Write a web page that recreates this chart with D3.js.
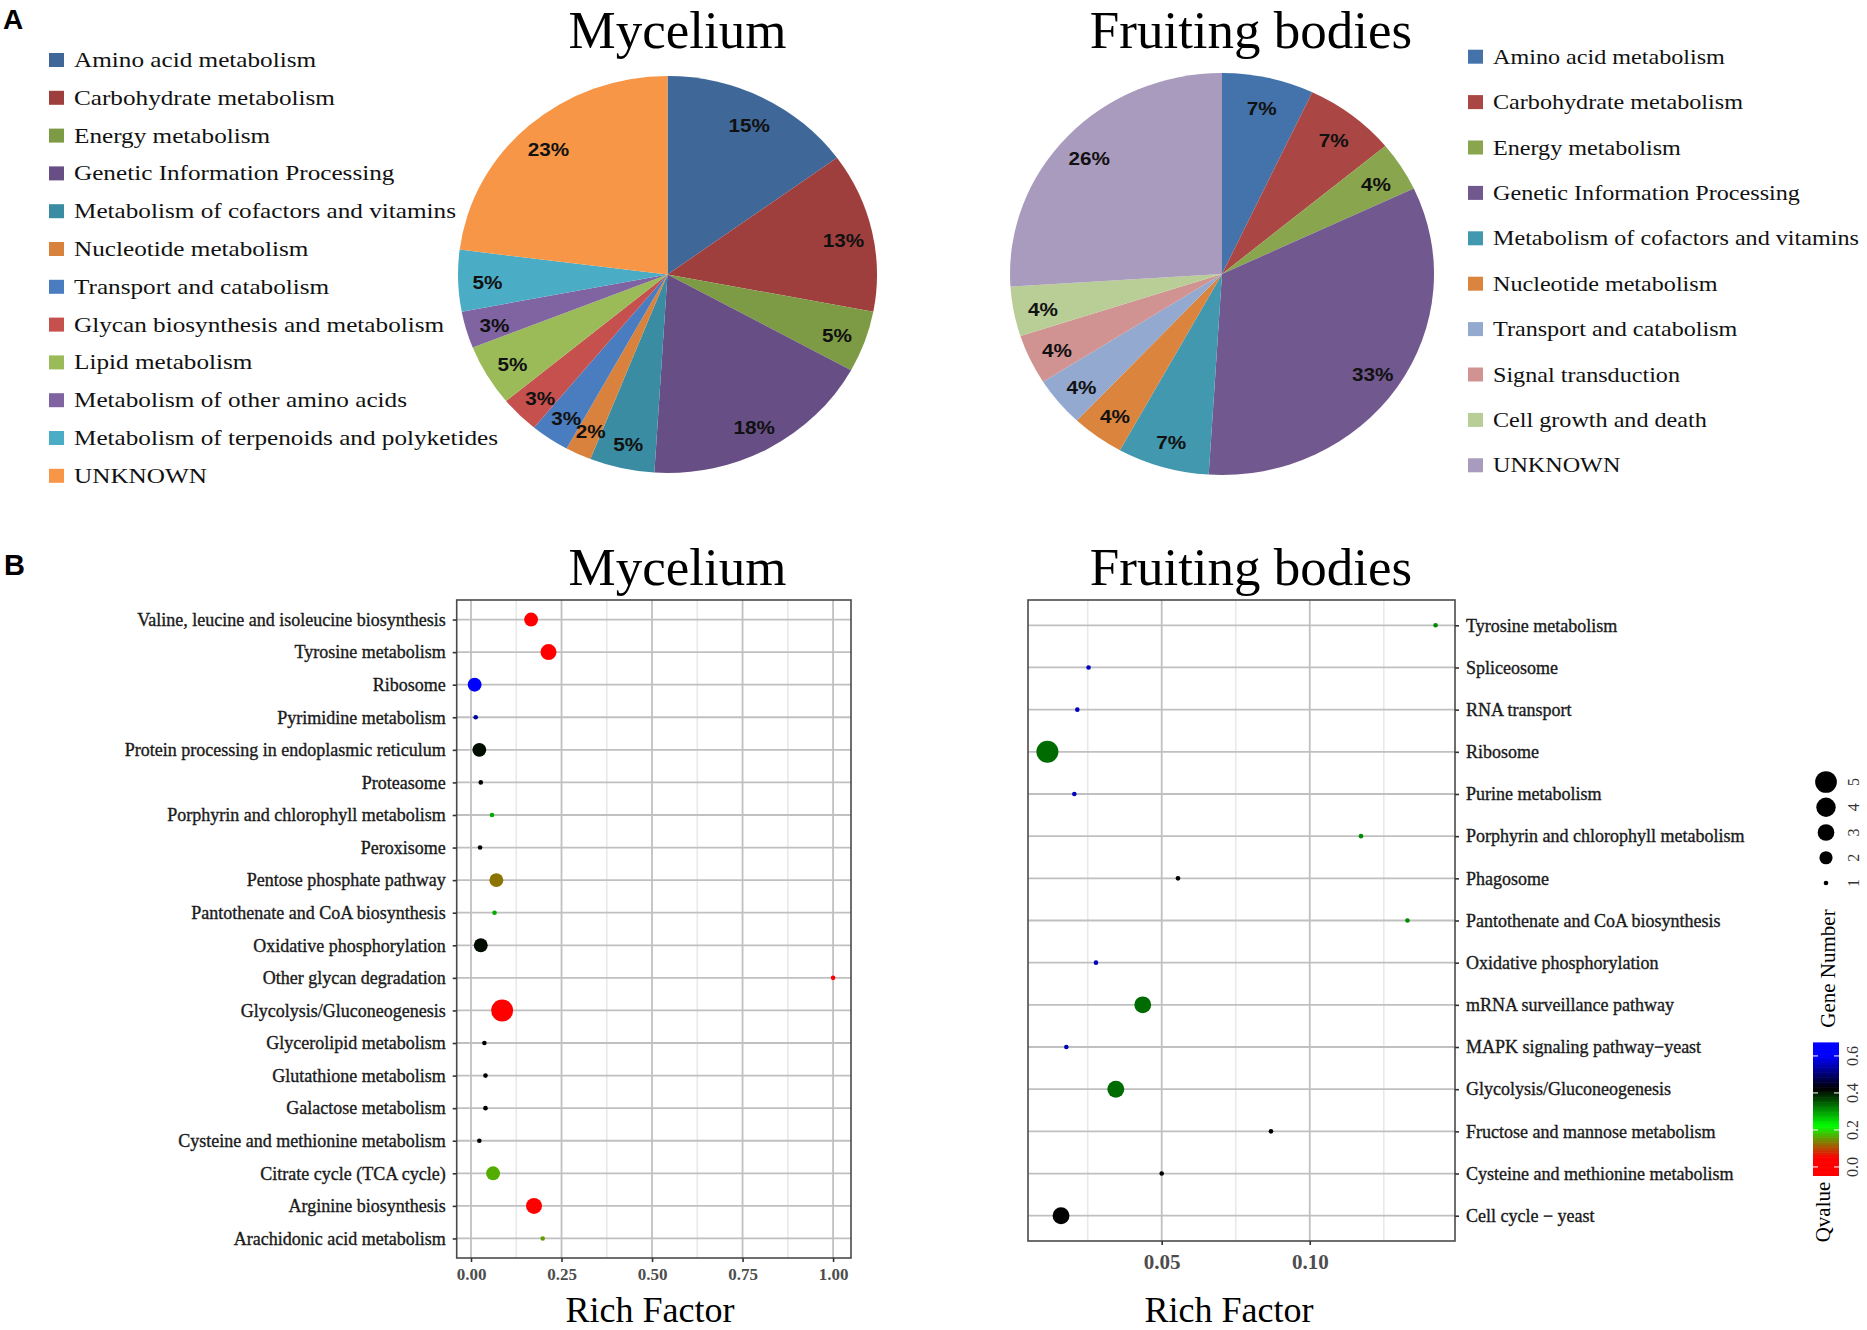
<!DOCTYPE html>
<html><head><meta charset="utf-8">
<script src="https://cdn.jsdelivr.net/npm/d3@7"></script>
<style>
html,body{margin:0;padding:0;background:#fff;}
svg{display:block;}
</style></head>
<body>
<svg id="chart" width="1867" height="1330"></svg>
<script>
// ---------------- DATA ----------------
const pieMycCategories = ["Amino acid metabolism","Carbohydrate metabolism","Energy metabolism","Genetic Information Processing","Metabolism of cofactors and vitamins","Nucleotide metabolism","Transport and catabolism","Glycan biosynthesis and metabolism","Lipid metabolism","Metabolism of other amino acids","Metabolism of terpenoids and polyketides","UNKNOWN"];
const pieMycValues = [15,13,5,18,5,2,3,3,5,3,5,23];

const pieFruCategories = ["Amino acid metabolism","Carbohydrate metabolism","Energy metabolism","Genetic Information Processing","Metabolism of cofactors and vitamins","Nucleotide metabolism","Transport and catabolism","Signal transduction","Cell growth and death","UNKNOWN"];
const pieFruValues = [7,7,4,33,7,4,4,4,4,26];

const mycPathways = ["Valine, leucine and isoleucine biosynthesis","Tyrosine metabolism","Ribosome","Pyrimidine metabolism","Protein processing in endoplasmic reticulum","Proteasome","Porphyrin and chlorophyll metabolism","Peroxisome","Pentose phosphate pathway","Pantothenate and CoA biosynthesis","Oxidative phosphorylation","Other glycan degradation","Glycolysis/Gluconeogenesis","Glycerolipid metabolism","Glutathione metabolism","Galactose metabolism","Cysteine and methionine metabolism","Citrate cycle (TCA cycle)","Arginine biosynthesis","Arachidonic acid metabolism"];
const mycRichFactor = [0.166,0.214,0.010,0.013,0.023,0.027,0.058,0.025,0.070,0.065,0.027,1.000,0.086,0.037,0.040,0.040,0.023,0.061,0.174,0.198];
const mycGeneNumber = [3,4,3,1,3,1,1,1,3,1,3,1,8,1,1,1,1,3,4,1];
const mycQvalue = [0.02,0.02,0.64,0.53,0.41,0.42,0.285,0.42,0.127,0.285,0.41,0.05,0.0,0.42,0.42,0.42,0.42,0.165,0.02,0.155];

const fruPathways = ["Tyrosine metabolism","Spliceosome","RNA transport","Ribosome","Purine metabolism","Porphyrin and chlorophyll metabolism","Phagosome","Pantothenate and CoA biosynthesis","Oxidative phosphorylation","mRNA surveillance pathway","MAPK signaling pathway\u2212yeast","Glycolysis/Gluconeogenesis","Fructose and mannose metabolism","Cysteine and methionine metabolism","Cell cycle \u2212 yeast"];
const fruRichFactor = [0.1425,0.0253,0.0215,0.0114,0.0205,0.1173,0.0555,0.1330,0.0278,0.0436,0.0178,0.0345,0.0869,0.0500,0.0160];
const fruGeneNumber = [1,1,1,5,1,1,1,1,1,3,1,3,1,1,3];
const fruQvalue = [0.312,0.551,0.551,0.336,0.551,0.312,0.42,0.312,0.551,0.336,0.551,0.336,0.42,0.42,0.42];

const mycMajorTicks = [0, 0.25, 0.5, 0.75, 1.0];
const mycMinorTicks = [0.125, 0.375, 0.625, 0.875];
const fruMajorTicks = [0.05, 0.10];
const fruMinorTicks = [0.025, 0.075, 0.125];
const qTicks = [0, 0.2, 0.4, 0.6];
const geneLegendValues = [1,2,3,4,5];

// ---------------- STYLES ----------------
const pieMycColors = ["#3F6899","#9E3F3D","#7D9A44","#674F86","#3A8CA2","#D9823E","#4A7DBF","#C6504E","#9BBB59","#8064A2","#4BACC6","#F79646"];
const pieFruColors = ["#4472AB","#AA4643","#89A54E","#71588F","#4198AF","#DB843D","#93A9CF","#D19392","#B9CD96","#A99BBD"];
const serif = "'Liberation Serif','Times New Roman',serif";
const sans = "'Liberation Sans',Arial,sans-serif";

const svg = d3.select('#chart');
svg.append('rect').attr('width',1867).attr('height',1330).attr('fill','#fff');

// panel letters
svg.append('text').attr('x',3).attr('y',29).text('A')
  .attr('font-family',sans).attr('font-weight','bold').attr('font-size',28);
svg.append('text').attr('x',4).attr('y',575).text('B')
  .attr('font-family',sans).attr('font-weight','bold').attr('font-size',29);

// titles
[[677.5,47.5,'Mycelium'],[1251,47.5,'Fruiting bodies'],[677.5,585,'Mycelium'],[1251,585,'Fruiting bodies']]
  .forEach(([x,y,t])=>svg.append('text').attr('x',x).attr('y',y).attr('text-anchor','middle')
    .attr('font-family',serif).attr('font-size',53).text(t));

// ---------------- PIES ----------------
function drawPie(cats, vals, colors, cx, cy, rx, ry, lx, ly0, lstep, tscale){
  const sx = rx/ry;
  const data = cats.map((c,i)=>({c, v: vals[i], color: colors[i]}));
  const arcs = d3.pie().sort(null).value(d=>d.v)(data);
  const arc = d3.arc().innerRadius(0).outerRadius(ry);
  const g = svg.append('g').attr('transform',`translate(${cx},${cy})`);
  g.append('g').attr('transform',`scale(${sx},1)`)
    .selectAll('path').data(arcs).join('path').attr('d',arc).attr('fill',d=>d.data.color);
  const lab = d3.arc().innerRadius(ry*0.86).outerRadius(ry*0.86);
  g.selectAll('text').data(arcs).join('text')
    .attr('transform',d=>{const c=lab.centroid(d);return `translate(${c[0]*sx},${c[1]+3}) scale(1.15,1)`;})
    .attr('text-anchor','middle').attr('dy','0.36em')
    .attr('font-family',sans).attr('font-weight','bold').attr('font-size',18).attr('fill','#111')
    .text(d=>d.data.v+'%');
  const yL = d3.scalePoint().domain(cats).range([ly0, ly0+lstep*(cats.length-1)]);
  const lg = svg.append('g');
  const row = lg.selectAll('g').data(data).join('g').attr('transform',d=>`translate(${lx},${yL(d.c)})`);
  row.append('rect').attr('x',0).attr('y',-7).attr('width',15).attr('height',14).attr('fill',d=>d.color);
  row.append('text').attr('transform',`translate(25,7) scale(${tscale},1)`)
    .attr('font-family',serif).attr('font-size',21).attr('fill','#111').text(d=>d.c);
}
drawPie(pieMycCategories, pieMycValues, pieMycColors, 667.5, 274.5, 209.5, 198.5, 49, 60, 37.8, 1.2);
drawPie(pieFruCategories, pieFruValues, pieFruColors, 1222, 274, 212, 201, 1468, 56.7, 45.4, 1.15);

// ---------------- DOT PLOTS ----------------
const qColor = d3.scaleLinear().domain([0.05,0.22,0.42,0.6])
  .range(['#ff0000','#00ff00','#000000','#0000ff']).interpolate(d3.interpolateRgb).clamp(true);

function drawDot(o){
  const ext = d3.extent(o.rich); const pad = (ext[1]-ext[0])*0.05;
  const x = d3.scaleLinear().domain([ext[0]-pad, ext[1]+pad]).range([o.x0,o.x1]);
  const y = d3.scalePoint().domain(o.cats).range([o.y0,o.y1]).padding(0.6);
  const gmax = d3.max(o.genes);
  const dia = d3.scaleLinear().domain([0,1]).range([4.6,22]);
  const size = v => dia(Math.sqrt((v-1)/(gmax-1)));
  const g = svg.append('g');
  g.selectAll('line.minor').data(o.minor).join('line')
    .attr('x1',d=>x(d)).attr('x2',d=>x(d)).attr('y1',o.y0).attr('y2',o.y1)
    .attr('stroke','#e9e9e9').attr('stroke-width',1.6);
  g.selectAll('line.majx').data(o.major).join('line')
    .attr('x1',d=>x(d)).attr('x2',d=>x(d)).attr('y1',o.y0).attr('y2',o.y1)
    .attr('stroke','#c0c0c0').attr('stroke-width',1.8);
  g.selectAll('line.majy').data(o.cats).join('line')
    .attr('x1',o.x0).attr('x2',o.x1).attr('y1',d=>y(d)).attr('y2',d=>y(d))
    .attr('stroke','#c0c0c0').attr('stroke-width',1.8);
  const pts = o.cats.map((c,i)=>({c, r:o.rich[i], n:o.genes[i], q:o.q[i]}));
  g.selectAll('circle').data(pts).join('circle')
    .attr('cx',d=>x(d.r)).attr('cy',d=>y(d.c)).attr('r',d=>size(d.n)/2)
    .attr('fill',d=>qColor(d.q));
  g.append('rect').attr('x',o.x0).attr('y',o.y0).attr('width',o.x1-o.x0).attr('height',o.y1-o.y0)
    .attr('fill','none').attr('stroke','#4a4a4a').attr('stroke-width',1.6);
  const ya = o.side==='left' ? d3.axisLeft(y) : d3.axisRight(y);
  const yg = g.append('g').attr('transform',`translate(${o.side==='left'?o.x0:o.x1},0)`)
    .call(ya.tickSize(4).tickPadding(7));
  yg.select('.domain').remove();
  yg.selectAll('line').attr('stroke','#333').attr('stroke-width',1.6);
  yg.selectAll('text').attr('font-family',serif).attr('font-size',18).attr('fill','#1a1a1a')
    .attr('stroke','#1a1a1a').attr('stroke-width',0.35);
  const xg = g.append('g').attr('transform',`translate(0,${o.y1})`)
    .call(d3.axisBottom(x).tickValues(o.major).tickFormat(d3.format('.2f')).tickSize(4).tickPadding(o.tpad));
  xg.select('.domain').remove();
  xg.selectAll('line').attr('stroke','#333').attr('stroke-width',1.6);
  xg.selectAll('text').attr('font-family',serif).attr('font-weight','bold').attr('font-size',o.tfs).attr('fill','#4d4d4d');
  g.append('text').attr('x',o.xlab).attr('y',1322).attr('text-anchor','middle')
    .attr('font-family',serif).attr('font-size',36).text('Rich Factor');
}
drawDot({cats:mycPathways, rich:mycRichFactor, genes:mycGeneNumber, q:mycQvalue,
  x0:456.7, x1:851, y0:600, y1:1258, major:mycMajorTicks, minor:mycMinorTicks, side:'left', tfs:17, tpad:6, xlab:650});
drawDot({cats:fruPathways, rich:fruRichFactor, genes:fruGeneNumber, q:fruQvalue,
  x0:1028, x1:1455, y0:600, y1:1241, major:fruMajorTicks, minor:fruMinorTicks, side:'right', tfs:21, tpad:9, xlab:1229});

// ---------------- LEGENDS (rotated) ----------------
const lgd = svg.append('g').attr('transform','translate(1826,1250) rotate(-90)');
lgd.append('text').attr('x',38).attr('y',-3).attr('dy','0.35em').attr('text-anchor','middle')
  .attr('font-family',serif).attr('font-size',21).text('Qvalue');
const qAxis = d3.scaleLinear().domain([-0.049,0.67]).range([74,207]);
const nb = 80; const step = (0.67+0.049)/nb;
lgd.selectAll('rect.cb').data(d3.range(nb).map(i=>-0.049+i*step)).join('rect')
  .attr('x',d=>qAxis(d)).attr('width',(qAxis(step)-qAxis(0))+0.6).attr('y',-13).attr('height',26)
  .attr('fill',d=>qColor(d+step/2));
lgd.selectAll('line.cbt').data(qTicks).join('line')
  .attr('x1',d=>qAxis(d)).attr('x2',d=>qAxis(d)).attr('y1',-13).attr('y2',-8).attr('stroke','#fff').attr('stroke-width',1);
lgd.selectAll('line.cbt2').data(qTicks).join('line')
  .attr('x1',d=>qAxis(d)).attr('x2',d=>qAxis(d)).attr('y1',8).attr('y2',13).attr('stroke','#fff').attr('stroke-width',1);
lgd.selectAll('text.cbl').data(qTicks).join('text')
  .attr('x',d=>qAxis(d)).attr('y',26).attr('dy','0.35em').attr('text-anchor','middle')
  .attr('font-family',serif).attr('font-size',16).attr('fill','#333').text(d3.format('.1f'));
lgd.append('text').attr('x',281.5).attr('y',2).attr('dy','0.35em').attr('text-anchor','middle')
  .attr('font-family',serif).attr('font-size',21).text('Gene Number');
const gPos = d3.scalePoint().domain(geneLegendValues).range([367,468]);
const legDia = d3.scaleLinear().domain([0,1]).range([4.6,21.7]);
lgd.selectAll('circle').data(geneLegendValues).join('circle')
  .attr('cx',d=>gPos(d)).attr('cy',0).attr('r',d=>legDia(Math.sqrt((d-1)/4))/2).attr('fill','#000');
lgd.selectAll('text.gl').data(geneLegendValues).join('text')
  .attr('x',d=>gPos(d)).attr('y',27).attr('dy','0.35em').attr('text-anchor','middle')
  .attr('font-family',serif).attr('font-size',16).attr('fill','#333').text(d=>d);
</script>
</body></html>
